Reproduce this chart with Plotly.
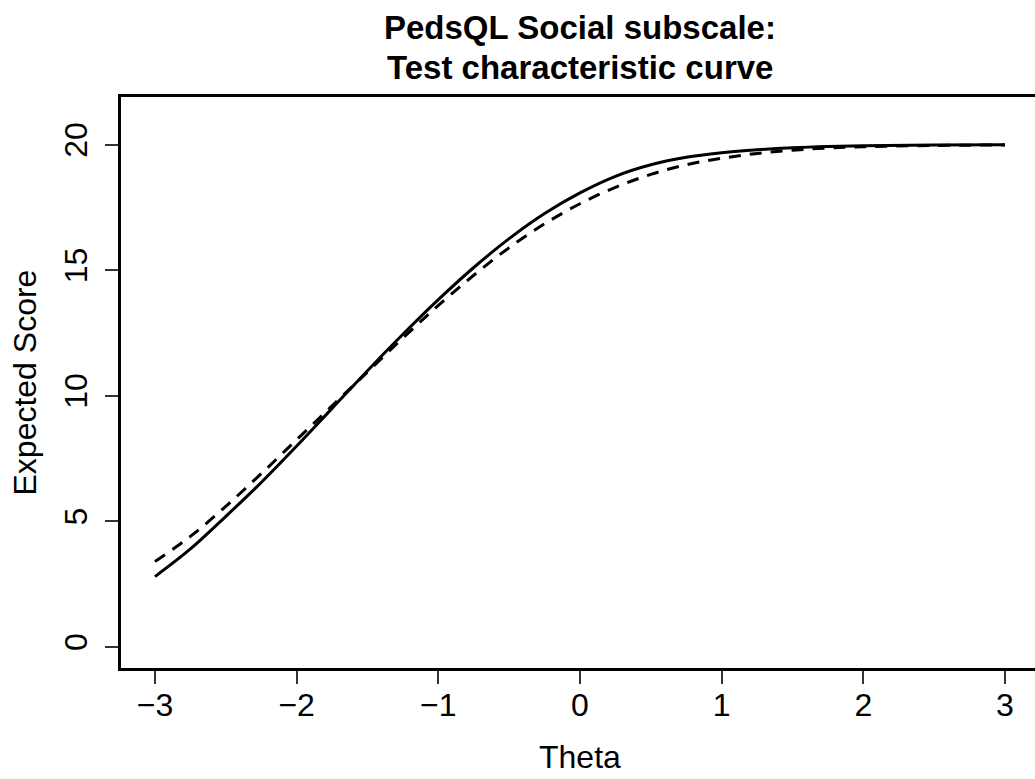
import plotly.graph_objects as go

theta = [-3.0, -2.75, -2.5, -2.25, -2.0, -1.75, -1.5, -1.25, -1.0, -0.75, -0.5,
         -0.25, 0.0, 0.25, 0.5, 0.75, 1.0, 1.25, 1.5, 1.75, 2.0, 2.5, 3.0]
score_solid = [2.8, 3.9, 5.2, 6.55, 8.0, 9.5, 11.0, 12.45, 13.83, 15.11, 16.26,
               17.26, 18.08, 18.74, 19.2, 19.5, 19.68, 19.8, 19.88, 19.93, 19.96, 19.99, 20.0]
score_dashed = [3.4, 4.4, 5.6, 6.9, 8.25, 9.6, 10.95, 12.3, 13.6, 14.8, 15.9,
                16.85, 17.65, 18.3, 18.82, 19.2, 19.46, 19.65, 19.78, 19.87, 19.92, 19.97, 19.99]

x_ticks = [-3, -2, -1, 0, 1, 2, 3]
y_ticks = [0, 5, 10, 15, 20]
title_lines = ["PedsQL Social subscale:", "Test characteristic curve"]

FONT = "Liberation Sans, Arial, Helvetica, sans-serif"

fig = go.Figure()
fig.add_trace(go.Scatter(x=theta, y=score_solid, mode="lines",
                         line=dict(color="black", width=3, shape="spline"),
                         showlegend=False))
fig.add_trace(go.Scatter(x=theta, y=score_dashed, mode="lines",
                         line=dict(color="black", width=3, shape="spline", dash="12px,9px"),
                         showlegend=False))

W, H = 1035, 779
L, R, T, B = 121, 0, 97, 111
xc = (580 - L) / (W - L - R)

fig.update_layout(
    width=W, height=H,
    margin=dict(l=L, r=R, t=T, b=B, pad=0),
    paper_bgcolor="white", plot_bgcolor="white",
    font=dict(family=FONT, size=32, color="black"),
    xaxis=dict(range=[-3.24, 3.212], tickvals=x_ticks,
               ticktext=["\u22123", "\u22122", "\u22121", "0", "1", "2", "3"],
               showgrid=False, zeroline=False,
               showline=True, linecolor="black", linewidth=3, mirror=True,
               ticks="outside", ticklen=13, tickwidth=2, tickcolor="#333",
               ticklabelstandoff=-6,
               tickfont=dict(size=32, family=FONT)),
    yaxis=dict(range=[-0.84, 21.9], tickvals=y_ticks,
               showgrid=False, zeroline=False,
               showline=True, linecolor="black", linewidth=3, mirror=False,
               ticks="outside", ticklen=13, tickwidth=2, tickcolor="#333",
               tickangle=-90, ticklabelstandoff=5,
               tickfont=dict(size=32, family=FONT)),
    annotations=[
        dict(text="<b>%s</b>" % title_lines[0],
             xref="paper", yref="paper", x=xc, y=1,
             xanchor="center", yanchor="middle", yshift=97 - 27, showarrow=False,
             font=dict(size=33, family=FONT)),
        dict(text="<b>%s</b>" % title_lines[1],
             xref="paper", yref="paper", x=xc, y=1,
             xanchor="center", yanchor="middle", yshift=97 - 67, showarrow=False,
             font=dict(size=33, family=FONT)),
        dict(text="Theta", xref="paper", yref="paper",
             x=xc, y=0, xanchor="center", yanchor="middle",
             yshift=-(757 - 668), showarrow=False, font=dict(size=32, family=FONT)),
        dict(text="Expected Score", xref="paper", yref="paper",
             x=0, y=0.5, xanchor="center", yanchor="middle", textangle=-90,
             xshift=-(L - 24), showarrow=False, font=dict(size=32, family=FONT)),
    ],
)

fig.write_html("out.html")
